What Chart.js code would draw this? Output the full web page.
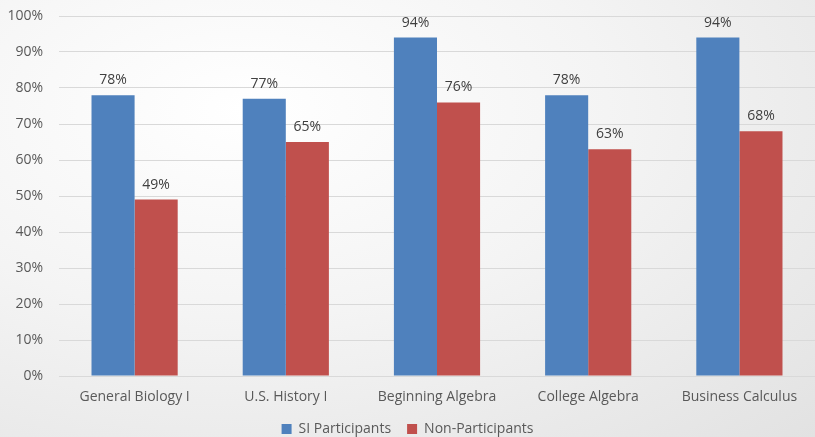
<!DOCTYPE html>
<html>
<head>
<meta charset="utf-8">
<script src="https://cdn.jsdelivr.net/npm/chart.js@4"></script>
<style>
  html, body { margin: 0; padding: 0; }
  body {
    width: 815px; height: 437px; overflow: hidden;
    background: radial-gradient(ellipse at 30% 25%, #ffffff 0%, #f4f4f4 45%, #e2e2e2 100%);
  }
  canvas { display: block; }
</style>
</head>
<body>
<canvas id="chart" width="815" height="437"></canvas>
<script>
var courses = ["General Biology I", "U.S. History I", "Beginning Algebra", "College Algebra", "Business Calculus"];
var siParticipants = [78, 77, 94, 78, 94];
var nonParticipants = [49, 65, 76, 63, 68];

// draws the "78%" labels above the bars
var valueLabels = {
    id: "valueLabels",
    afterDatasetsDraw: function(chart) {
        var ctx = chart.ctx;
        ctx.save();
        ctx.font = "14px 'Open Sans', 'Liberation Sans', sans-serif";
        ctx.fillStyle = "#404040";
        ctx.textAlign = "center";
        ctx.textBaseline = "bottom";
        chart.data.datasets.forEach(function(ds, i) {
            var meta = chart.getDatasetMeta(i);
            meta.data.forEach(function(bar, j) {
                ctx.fillText(ds.data[j] + "%", bar.x, bar.y - 8);
            });
        });
        ctx.restore();
    }
};

var chart = new Chart(document.getElementById("chart"), {
    type: "bar",
    data: {
        labels: courses,
        datasets: [
            {
                label: "SI Participants",
                data: siParticipants,
                backgroundColor: "#4f81bd",
                categoryPercentage: 0.57,
                barPercentage: 1.0
            },
            {
                label: "Non-Participants",
                data: nonParticipants,
                backgroundColor: "#c0504d",
                categoryPercentage: 0.57,
                barPercentage: 1.0
            }
        ]
    },
    options: {
        responsive: false,
        animation: false,
        layout: { autoPadding: false, padding: { top: 16, right: 0, left: 0, bottom: -9 } },
        plugins: {
            legend: {
                position: "bottom",
                labels: {
                    boxWidth: 10,
                    boxHeight: 10,
                    padding: 16,
                    color: "#595959",
                    font: { family: "'Open Sans', 'Liberation Sans', sans-serif", size: 14 }
                }
            },
            tooltip: { enabled: false }
        },
        scales: {
            x: {
                grid: { display: false },
                border: { color: "#d9d9d9" },
                ticks: {
                    color: "#595959",
                    padding: 5,
                    maxRotation: 0,
                    font: { family: "'Open Sans', 'Liberation Sans', sans-serif", size: 14 }
                },
                afterFit: function(scale) { scale.height = 30; }
            },
            y: {
                min: 0,
                max: 100,
                ticks: {
                    stepSize: 10,
                    color: "#595959",
                    padding: 16,
                    font: { family: "'Open Sans', 'Liberation Sans', sans-serif", size: 14 },
                    callback: function(v) { return v + "%"; }
                },
                grid: { color: "#d9d9d9", drawTicks: false },
                border: { display: false },
                afterFit: function(scale) {
                    scale.width = 59;
                    scale.paddingTop = 0;
                    scale.paddingBottom = 0;
                }
            }
        }
    },
    plugins: [valueLabels]
});
</script>
</body>
</html>
